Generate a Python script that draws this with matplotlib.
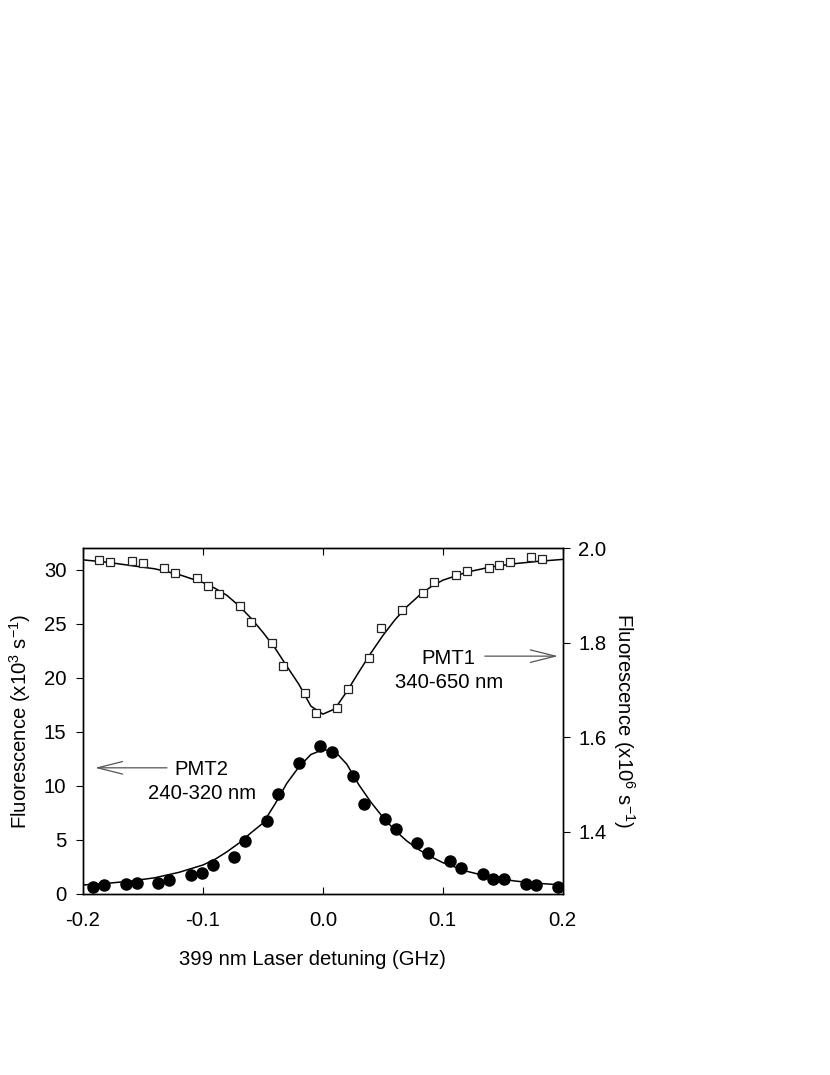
import numpy as np
from matplotlib import pyplot as plt

plt.rcParams['font.family'] = ['Liberation Sans', 'DejaVu Sans']
plt.rcParams['mathtext.fontset'] = 'custom'
plt.rcParams['mathtext.rm'] = 'Liberation Sans'

# PMT2 (240-320 nm), left axis, x10^3 s^-1
pmt2_x = [-0.1914, -0.1823, -0.1642, -0.1553, -0.1372, -0.1281, -0.1100, -0.1011, -0.0919, -0.0742,
          -0.0650, -0.0469, -0.0378, -0.0200, -0.0025, 0.0072, 0.0250, 0.0339, 0.0519, 0.0608,
          0.0789, 0.0878, 0.1058, 0.1150, 0.1331, 0.1419, 0.1511, 0.1692, 0.1781, 0.1961]
pmt2_y = [0.62, 0.81, 0.90, 0.99, 1.05, 1.30, 1.76, 1.97, 2.69, 3.43,
          4.94, 6.79, 9.26, 12.10, 13.73, 13.15, 10.90, 8.36, 6.92, 6.01,
          4.69, 3.77, 3.06, 2.36, 1.85, 1.39, 1.39, 0.90, 0.81, 0.68]

# PMT1 (340-650 nm), right axis, x10^6 s^-1
pmt1_x = [-0.1864, -0.1775, -0.1594, -0.1503, -0.1323, -0.1233, -0.1053, -0.0961, -0.0869, -0.0692,
          -0.0600, -0.0425, -0.0331, -0.0150, -0.0054, 0.0114, 0.0211, 0.0386, 0.0481, 0.0656,
          0.0836, 0.0928, 0.1108, 0.1198, 0.1381, 0.1469, 0.1558, 0.1739, 0.1831]
pmt1_y = [1.975, 1.971, 1.972, 1.968, 1.957, 1.947, 1.937, 1.920, 1.903, 1.877,
          1.844, 1.800, 1.751, 1.694, 1.652, 1.661, 1.703, 1.767, 1.830, 1.869,
          1.904, 1.929, 1.944, 1.951, 1.958, 1.965, 1.971, 1.981, 1.977]

# fitted curves
fit_x = [-0.20, -0.18, -0.16, -0.14, -0.12, -0.10, -0.09, -0.08, -0.07, -0.06, -0.05, -0.04,
         -0.03, -0.02, -0.01, 0.00, 0.01, 0.02, 0.03, 0.04, 0.05, 0.06, 0.07, 0.08, 0.09, 0.10,
         0.12, 0.14, 0.16, 0.18, 0.20]
fit2_y = [0.83, 0.98, 1.2, 1.5, 2.0, 2.68, 3.2, 3.9, 4.7, 5.65, 6.55, 8.3,
          10.25, 11.75, 12.9, 13.35, 13.2, 12.0, 10.1, 8.5, 7.1, 5.9, 4.9, 4.1, 3.45, 2.9,
          2.1, 1.55, 1.2, 0.98, 0.83]
fit1_y = [1.975, 1.970, 1.963, 1.956, 1.944, 1.927, 1.915, 1.900, 1.878, 1.852, 1.822, 1.789,
          1.750, 1.712, 1.666, 1.649, 1.660, 1.697, 1.738, 1.778, 1.815, 1.848, 1.876, 1.899,
          1.918, 1.932, 1.949, 1.960, 1.967, 1.972, 1.976]

x_ticks = [-0.2, -0.1, 0.0, 0.1, 0.2]
left_ticks = [0, 5, 10, 15, 20, 25, 30]
right_ticks = [1.4, 1.6, 1.8, 2.0]

FS = 14.6

fig = plt.figure(figsize=(8.3, 10.75), dpi=100)
ax = fig.add_axes([0.1, 0.1684, 0.578, 0.3218])
ax2 = ax.twinx()

ax.plot(fit_x, fit2_y, color='black', lw=1.1, zorder=2)
ax.plot(pmt2_x, pmt2_y, 'o', color='black', ms=8, zorder=3)
ax2.plot(fit_x, fit1_y, color='black', lw=1.1, zorder=2)
ax2.plot(pmt1_x, pmt1_y, 's', mfc='white', mec='#222222', mew=0.9, ms=6.2, zorder=3)

ax.set_xlim(-0.2, 0.2)
ax.set_ylim(0, 32)
ax2.set_ylim(1.269, 2.0)

ax.set_xticks(x_ticks)
ax.set_xticklabels([f'{t:.1f}' for t in x_ticks])
ax.set_yticks(left_ticks)
ax2.set_yticks(right_ticks)
ax2.set_yticklabels([f'{t:.1f}' for t in right_ticks])

ax.tick_params(axis='x', direction='in', top=True, length=5, width=0.8, pad=12, labelsize=FS)
ax.tick_params(axis='y', direction='out', length=5, width=0.8, pad=7, labelsize=FS)
ax2.tick_params(axis='y', direction='out', length=5, width=0.8, pad=6, labelsize=FS)
for a in (ax, ax2):
    for s in a.spines.values():
        s.set_linewidth(1.0)

ax.set_xlabel('399 nm Laser detuning (GHz)', fontsize=FS)
ax.xaxis.set_label_coords(0.4785, -0.162)
ax.set_ylabel('Fluorescence (x10$^{3}$ s$^{-1}$)', fontsize=FS, labelpad=8)
ax2.set_ylabel('Fluorescence (x10$^{6}$ s$^{-1}$)', fontsize=FS, rotation=-90, labelpad=22)

arrow = dict(arrowstyle='->,head_length=1.2,head_width=0.3', color='#555555', lw=0.9,
             mutation_scale=15, shrinkA=0, shrinkB=0)
ax.annotate('', xy=(-0.19, 11.67), xytext=(-0.13, 11.67), arrowprops=arrow)
ax.annotate('', xy=(0.196, 22.0), xytext=(0.135, 22.0), arrowprops=arrow)
ax.text(-0.101, 10.4, 'PMT2\n240-320 nm', ha='center', va='center', fontsize=FS,
        multialignment='center', linespacing=1.3)
ax.text(0.105, 20.65, 'PMT1\n340-650 nm', ha='center', va='center', fontsize=FS,
        multialignment='center', linespacing=1.3)

plt.savefig('out.png', dpi=100)
